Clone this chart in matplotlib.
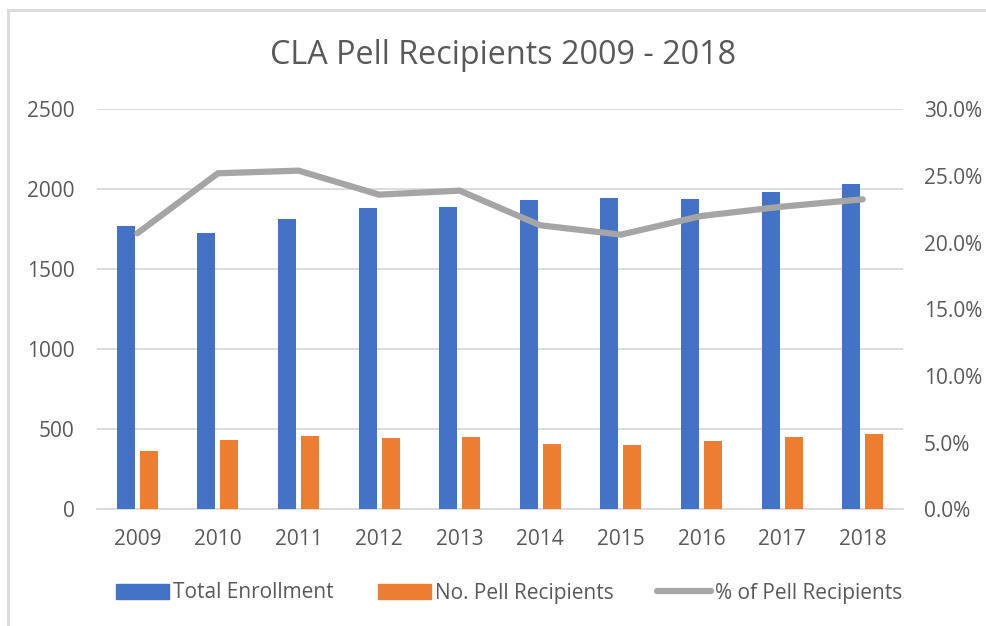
import matplotlib
matplotlib.use("Agg")
import matplotlib.pyplot as plt
import numpy as np
from matplotlib.patches import Rectangle
from matplotlib.lines import Line2D
from matplotlib.ticker import FuncFormatter, MultipleLocator

plt.rcParams['font.family'] = ['Open Sans', 'DejaVu Sans']

years = ['2009', '2010', '2011', '2012', '2013', '2014', '2015', '2016', '2017', '2018']
total_enrollment = [1773, 1729, 1817, 1883, 1888, 1931, 1948, 1942, 1983, 2033]
pell_recipients = [364, 433, 460, 444, 450, 408, 400, 425, 450, 471]
pell_pct = [20.7, 25.2, 25.4, 23.6, 23.9, 21.3, 20.6, 22.0, 22.7, 23.25]

BLUE = '#4472C4'
ORANGE = '#ED7D31'
GRAY = '#A5A5A5'
TXT = '#595959'
GRID = '#D9D9D9'

W, H = 987, 626
fig = plt.figure(figsize=(W / 100, H / 100), dpi=100)
L, R, B, T = 97, 903, 509.3, 109.3
ax = fig.add_axes([L / W, 1 - B / H, (R - L) / W, (B - T) / H])
ax2 = ax.twinx()

x = np.arange(len(years))
bw = 0.223
off = 0.143
ax.bar(x - off, total_enrollment, bw, color=BLUE, zorder=3)
ax.bar(x + off, pell_recipients, bw, color=ORANGE, zorder=3)
ax.set_xlim(-0.5, len(years) - 0.5)
ax.set_ylim(0, 2500)
ax.yaxis.set_major_locator(MultipleLocator(500))
ax.grid(axis='y', color=GRID, linewidth=1.3, zorder=0)
ax.set_axisbelow(True)
ax.set_xticks(x)
ax.set_xticklabels(years)

ax2.plot(x, pell_pct, color=GRAY, linewidth=4.5, solid_capstyle='round',
         solid_joinstyle='round', zorder=4)
ax2.set_ylim(0, 30)
ax2.yaxis.set_major_locator(MultipleLocator(5))
ax2.yaxis.set_major_formatter(FuncFormatter(lambda v, p: f"{v:.1f}%"))

for a in (ax, ax2):
    for s in a.spines.values():
        s.set_visible(False)
    a.tick_params(length=0, labelsize=15, colors=TXT)
ax.spines['bottom'].set_visible(True)
ax.spines['bottom'].set_color(GRID)
ax.spines['bottom'].set_linewidth(1.3)
ax.tick_params(axis='y', pad=16)
ax.tick_params(axis='x', pad=14)
ax2.tick_params(axis='y', pad=15)

fig.text(503 / W, 1 - 55 / H, 'CLA Pell Recipients 2009 - 2018', ha='center',
         va='center', fontsize=23.3, color=TXT)

handles = [Rectangle((0, 0), 1, 1, color=BLUE),
           Rectangle((0, 0), 1, 1, color=ORANGE),
           Line2D([0], [0], color=GRAY, linewidth=4.5, solid_capstyle='round')]
labels = ['Total Enrollment', 'No. Pell Recipients', '% of Pell Recipients']
leg = fig.legend(handles, labels, loc='center', bbox_to_anchor=(509 / W, 1 - 593 / H),
                 ncol=3, frameon=False, fontsize=15, handlelength=2.55,
                 handleheight=0.7, handletextpad=0.2, columnspacing=2.1,
                 labelcolor=TXT)

fig.add_artist(Line2D([8.5 / W, 8.5 / W], [0, 1 - 10 / H], transform=fig.transFigure,
                      color=GRID, linewidth=2))
fig.add_artist(Line2D([8.5 / W, 1], [1 - 10 / H, 1 - 10 / H], transform=fig.transFigure,
                      color=GRID, linewidth=2))

fig.savefig('out.png', dpi=100)
